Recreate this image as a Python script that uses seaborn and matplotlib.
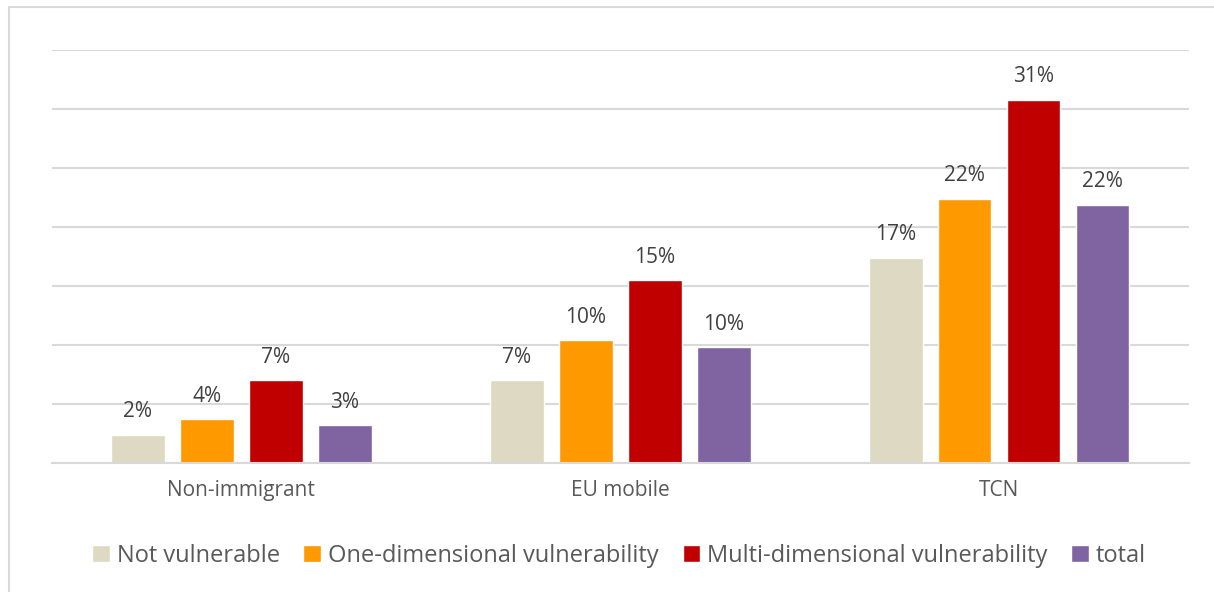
import pandas as pd
import matplotlib.pyplot as plt
from matplotlib.lines import Line2D
import seaborn as sns

# data
groups = ["Non-immigrant", "EU mobile", "TCN"]
series = ["Not vulnerable", "One-dimensional vulnerability",
          "Multi-dimensional vulnerability", "total"]
not_vulnerable = [2.4, 7.0, 17.4]
one_dim = [3.7, 10.4, 22.4]
multi_dim = [7.0, 15.5, 30.8]
total = [3.2, 9.8, 21.9]
labels = [["2%", "7%", "17%"], ["4%", "10%", "22%"],
          ["7%", "15%", "31%"], ["3%", "10%", "22%"]]
colors = ["#DDD9C3", "#FF9900", "#C00000", "#8064A2"]

rows = []
for s, vals in zip(series, [not_vulnerable, one_dim, multi_dim, total]):
    for g, v in zip(groups, vals):
        rows.append({"group": g, "series": s, "value": v})
df = pd.DataFrame(rows)

sns.set_style("white")
plt.rcParams["font.family"] = ["Open Sans", "DejaVu Sans"]

fig = plt.figure(figsize=(12.14, 5.92), dpi=100)
ax = fig.add_axes([0.0428, 0.218, 0.9362, 0.6975])

sns.barplot(data=df, x="group", y="value", hue="series", order=groups,
            hue_order=series, palette=colors, width=0.728, gap=0.22,
            saturation=1, ax=ax, legend=True)

# data labels
for cont, labs in zip(ax.containers, labels):
    ax.bar_label(cont, labels=labs, padding=9, fontsize=15, color="#404040")

ax.set_ylim(0, 35)
ax.set_yticks(range(0, 36, 5))
ax.set_yticklabels([])
ax.tick_params(axis="y", length=0)
ax.tick_params(axis="x", length=0, labelsize=15, labelcolor="#595959", pad=12)
ax.yaxis.grid(True, color="#D9D9D9", linewidth=1.5)
ax.set_axisbelow(True)
for sp in ["left", "right", "top"]:
    ax.spines[sp].set_visible(False)
ax.spines["bottom"].set_color("#D9D9D9")
ax.spines["bottom"].set_linewidth(1.5)
ax.set_xlabel("")
ax.set_ylabel("")
ax.set_xlim(-0.5, 2.5)

# legend below the chart
handles, lbls = ax.get_legend_handles_labels()
ax.legend(handles, lbls, loc="upper center", bbox_to_anchor=(0.499, -0.145),
          ncol=4, frameon=False, fontsize=17, handlelength=0.75,
          handleheight=0.75, handletextpad=0.3, columnspacing=1.0,
          labelcolor="#595959")

# chart-area border (top and left only visible)
fig.add_artist(Line2D([9 / 1214, 9 / 1214], [0, 1 - 7 / 592],
                      transform=fig.transFigure, color="#D9D9D9", lw=1.5))
fig.add_artist(Line2D([9 / 1214, 1], [1 - 7 / 592, 1 - 7 / 592],
                      transform=fig.transFigure, color="#D9D9D9", lw=1.5))

fig.savefig("out.png", dpi=100)
